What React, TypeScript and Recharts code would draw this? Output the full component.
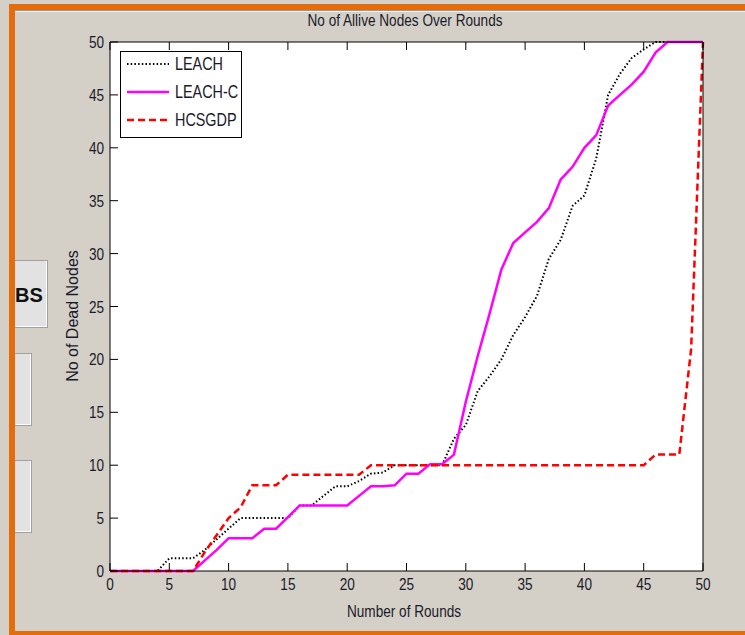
import React from 'react';
import { LineChart, Line, XAxis, YAxis, CartesianGrid, Legend } from 'recharts';

const rounds = [0, 1, 2, 3, 4, 5, 6, 7, 8, 9, 10, 11, 12, 13, 14, 15, 16, 17, 18, 19, 20, 21, 22, 23, 24, 25, 26, 27, 28, 29, 30, 31, 32, 33, 34, 35, 36, 37, 38, 39, 40, 41, 42, 43, 44, 45, 46, 47, 48, 49, 50];
const leach = [0, 0, 0, 0, 0, 1.2, 1.2, 1.2, 2, 3, 4, 5, 5, 5, 5, 5, 6.2, 6.2, 7.1, 8, 8, 8.5, 9.2, 9.3, 10, 10, 10, 10, 10, 12.5, 13.8, 17, 18.4, 20, 22.3, 24, 26, 29.5, 31.3, 34.5, 35.5, 39, 45, 47, 48.5, 49.3, 50, 50, 50, 50, 50];
const leachC = [0, 0, 0, 0, 0, 0, 0, 0, 1, 2, 3.1, 3.1, 3.1, 4, 4, 5.1, 6.2, 6.2, 6.2, 6.2, 6.2, 7.1, 8, 8, 8.1, 9.2, 9.2, 10.1, 10.1, 11, 16, 20.3, 24.3, 28.5, 31, 32, 33, 34.3, 37, 38.2, 40, 41.2, 44, 45, 46, 47.2, 49, 50, 50, 50, 50];
const hcsgdp = [0, 0, 0, 0, 0, 0, 0, 0, 1.8, 3.4, 5, 6, 8.1, 8.1, 8.1, 9.1, 9.1, 9.1, 9.1, 9.1, 9.1, 9.1, 10, 10, 10, 10, 10, 10, 10, 10, 10, 10, 10, 10, 10, 10, 10, 10, 10, 10, 10, 10, 10, 10, 10, 10, 11, 11, 11, 21, 50];

const xTicks = [0, 5, 10, 15, 20, 25, 30, 35, 40, 45, 50];
const yTicks = [0, 5, 10, 15, 20, 25, 30, 35, 40, 45, 50];
const seriesNames = ['LEACH', 'LEACH-C', 'HCSGDP'];
const titleText = 'No of Allive Nodes Over Rounds';
const xLabelText = 'Number of Rounds';
const yLabelText = 'No of Dead Nodes';
const buttonText = 'BS';

const data = rounds.map((r, i) => ({ round: r, leach: leach[i], leachC: leachC[i], hcsgdp: hcsgdp[i] }));

const seriesStyle = [
  { key: 'leach', name: seriesNames[0], color: '#000000', width: 2, dash: '1.5 2.2' },
  { key: 'leachC', name: seriesNames[1], color: '#FF00FF', width: 2.5, dash: undefined },
  { key: 'hcsgdp', name: seriesNames[2], color: '#FF0000', width: 2.5, dash: '7 4' },
];

const SANS = "'Liberation Sans', Arial, sans-serif";
const SQ = 0.8;
const TICK = 8;
const TXT = '#1a1a2a';

const NarrowText = ({ x, y, anchor, size, children }: any) => (
  <text transform={`translate(${x},${y}) scale(${SQ},1)`} x={0} y={0} textAnchor={anchor} fontFamily={SANS} fontSize={size} fill={TXT}>{children}</text>
);

const BottomTick = (p: any) => (
  <g>
    <line x1={p.x} y1={p.y} x2={p.x} y2={p.y - TICK} stroke="#000" strokeWidth={1} />
    <NarrowText x={p.x} y={p.y + 19} anchor="middle" size={17}>{p.payload.value}</NarrowText>
  </g>
);
const TopTick = (p: any) => (
  <line x1={p.x} y1={p.y} x2={p.x} y2={p.y + TICK} stroke="#000" strokeWidth={1} />
);
const LeftTick = (p: any) => (
  <g>
    <line x1={p.x} y1={p.y} x2={p.x + TICK} y2={p.y} stroke="#000" strokeWidth={1} />
    <NarrowText x={p.x - 6} y={p.y + 6} anchor="end" size={17}>{p.payload.value}</NarrowText>
  </g>
);
const RightTick = (p: any) => (
  <line x1={p.x} y1={p.y} x2={p.x - TICK} y2={p.y} stroke="#000" strokeWidth={1} />
);

const LegendBox = () => (
  <svg width={123} height={88} style={{ display: 'block' }}>
    <rect x={0.5} y={0.5} width={121} height={86} fill="#fff" stroke="#000" strokeWidth={1} />
    {seriesStyle.map((s, i) => {
      const yy = 13 + i * 28;
      return (
        <g key={s.key}>
          <line x1={7} y1={yy} x2={49} y2={yy} stroke={s.color} strokeWidth={s.width} strokeDasharray={s.dash} />
          <NarrowText x={55} y={yy + 6} anchor="start" size={18}>{s.name}</NarrowText>
        </g>
      );
    })}
  </svg>
);

const btnStyle = { position: 'absolute' as const, background: '#E2E2E2', borderTop: '1px solid #A0A0A0', borderRight: '1px solid #A0A0A0', borderBottom: '1px solid #A0A0A0', boxShadow: 'inset -1px -1px 0 #FFFFFF' };
const narrowDiv = { position: 'absolute' as const, textAlign: 'center' as const, fontFamily: SANS, fontSize: 17, color: TXT, transform: `scaleX(${SQ})`, whiteSpace: 'nowrap' as const };

export default function App() {
  return (
    <div style={{ position: 'absolute', left: 0, top: 0, width: 745, height: 635, background: '#D4D0C8', overflow: 'hidden' }}>
      <div style={{ position: 'absolute', left: 9, top: 4, width: 736, height: 6, background: '#E46C0A' }} />
      <div style={{ position: 'absolute', left: 9, top: 4, width: 6, height: 631, background: '#E46C0A' }} />
      <div style={{ position: 'absolute', left: 9, top: 631, width: 736, height: 4, background: '#E46C0A' }} />
      <div style={{ position: 'absolute', left: 15, top: 10, width: 730, height: 1, background: '#8E9BA8' }} />
      <div style={{ position: 'absolute', left: 15, top: 11, width: 730, height: 1, background: '#F2F1EC' }} />
      <div style={{ ...btnStyle, left: 15, top: 260, width: 32, height: 66 }} />
      <div style={{ position: 'absolute', left: 15, top: 283, fontFamily: SANS, fontWeight: 'bold', fontSize: 20, color: '#111', lineHeight: '24px' }}>{buttonText}</div>
      <div style={{ ...btnStyle, left: 15, top: 353, width: 16, height: 71 }} />
      <div style={{ ...btnStyle, left: 15, top: 460, width: 16, height: 71 }} />
      <div style={{ ...narrowDiv, left: 205, width: 400, top: 11 }}>{titleText}</div>
      <div style={{ ...narrowDiv, left: 204, width: 400, top: 602 }}>{xLabelText}</div>
      <div style={{ position: 'absolute', left: 73, top: 316, width: 0, height: 0 }}>
        <div style={{ position: 'absolute', left: -100, top: -9, width: 200, textAlign: 'center', transform: 'rotate(-90deg)', fontFamily: SANS, fontSize: 16, color: TXT, lineHeight: '18px', whiteSpace: 'nowrap' }}>{yLabelText}</div>
      </div>
      <div style={{ position: 'absolute', left: 0, top: 0 }}>
        <LineChart width={745} height={635} data={data} margin={{ top: 41, right: 41, bottom: 63, left: 109 }}>
          <CartesianGrid horizontal={false} vertical={false} fill="#FFFFFF" />
          <XAxis dataKey="round" type="number" domain={[0, 50]} ticks={xTicks} height={1} tickSize={0} tickMargin={0} tickLine={false} tick={BottomTick} axisLine={{ stroke: '#000' }} interval={0} />
          <XAxis xAxisId="top" orientation="top" dataKey="round" type="number" domain={[0, 50]} ticks={xTicks} height={1} tickSize={0} tickMargin={0} tickLine={false} tick={TopTick} axisLine={{ stroke: '#000' }} interval={0} />
          <YAxis type="number" domain={[0, 50]} ticks={yTicks} width={1} tickSize={0} tickMargin={0} tickLine={false} tick={LeftTick} axisLine={{ stroke: '#000' }} interval={0} />
          <YAxis yAxisId="right" orientation="right" type="number" domain={[0, 50]} ticks={yTicks} width={1} tickSize={0} tickMargin={0} tickLine={false} tick={RightTick} axisLine={{ stroke: '#000' }} interval={0} />
          {seriesStyle.map((s) => (
            <Line key={s.key} dataKey={s.key} name={s.name} type="linear" stroke={s.color} strokeWidth={s.width} strokeDasharray={s.dash} dot={false} activeDot={false} isAnimationActive={false} />
          ))}
          <Legend layout="vertical" align="center" verticalAlign="middle" content={() => <LegendBox />} wrapperStyle={{ left: 120, top: 51, width: 123, height: 88 }} />
        </LineChart>
      </div>
    </div>
  );
}
